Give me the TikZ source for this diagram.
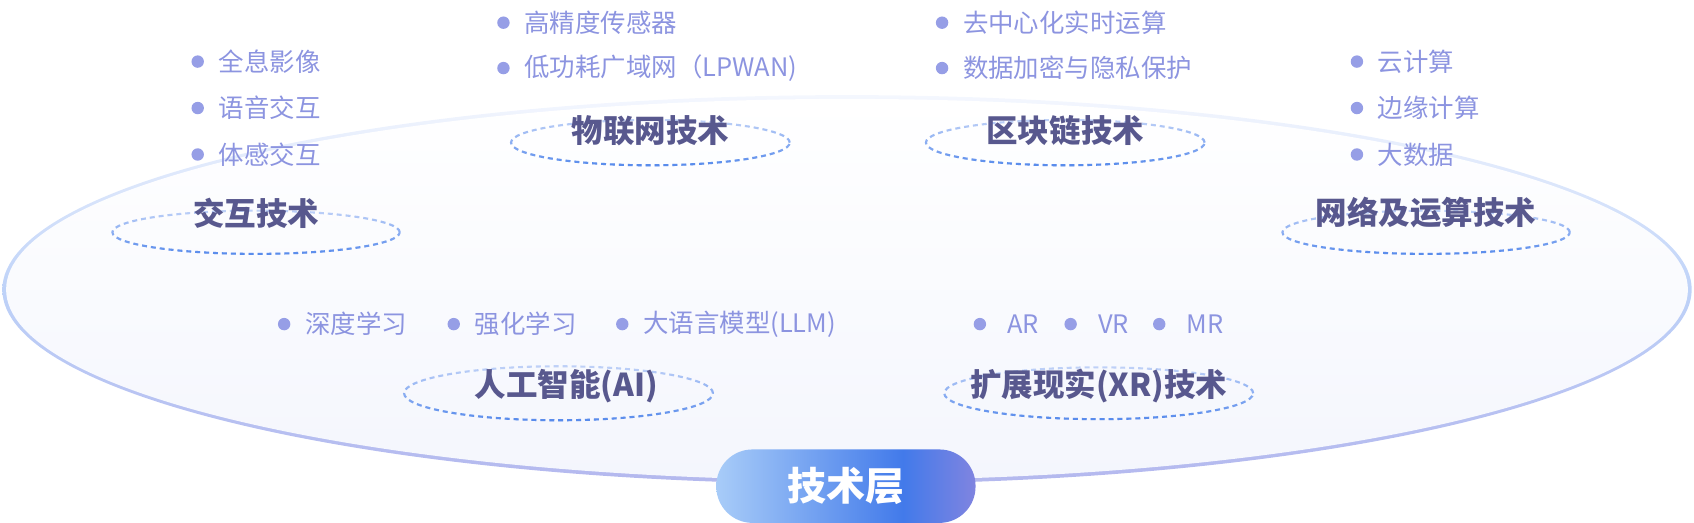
\documentclass[tikz,border=0pt]{standalone}
\usepackage{fontspec}
\setmainfont{Noto Sans CJK SC}
\usetikzlibrary{positioning,fadings}

\definecolor{headc}{RGB}{88,88,142}
\definecolor{itemc}{RGB}{140,148,224}
\definecolor{dotc}{RGB}{150,158,230}
\definecolor{ringlo}{RGB}{192,210,248}
\definecolor{ringhi}{RGB}{86,138,236}
\definecolor{edgetop}{RGB}{244,247,254}
\definecolor{edgemid}{RGB}{190,210,248}
\definecolor{edgebot}{RGB}{180,184,238}
\definecolor{fillbot}{RGB}{244,246,253}
\definecolor{btnl}{RGB}{168,204,248}
\definecolor{btnm}{RGB}{66,122,234}
\definecolor{btnr}{RGB}{128,132,224}

\pgfdeclarehorizontalshading{btnshade}{100bp}{color(0bp)=(btnl); color(25bp)=(btnl); color(61bp)=(btnm); color(75bp)=(btnr); color(100bp)=(btnr)}

% dashed ring under a group title: centre, x radius, y radius
\newcommand{\ring}[3]{%
  \draw[ringline, ringlo] (#1) ++(0:#2 and #3) arc[start angle=0, end angle=360, x radius=#2, y radius=#3];
  \draw[ringline, ringhi, path fading=north] (#1) ++(0:#2 and #3) arc[start angle=0, end angle=360, x radius=#2, y radius=#3];
}

\begin{document}
\begin{tikzpicture}[x=0.02cm, y=-0.02cm]
\tikzstyle{ringline}=[line width=1.1pt, dash pattern=on 2.6pt off 2.1pt]
\tikzstyle{head}=[inner sep=0pt, text=headc, font=\bfseries\fontsize{16.6}{20}\selectfont]
\tikzstyle{item}=[inner sep=0pt, text=itemc, font=\fontsize{13.4}{16}\selectfont]
\tikzstyle{dot}=[circle, fill=dotc, inner sep=0pt, minimum size=0.23cm]
\tikzstyle{btn}=[rounded corners=0.67cm, minimum width=4.8cm, minimum height=1.36cm, shading=btnshade, text=white, font=\bfseries\fontsize{20.5}{24}\selectfont]

\useasboundingbox (0,0) rectangle (1568,484);

% the layer disc
\shade[top color=edgetop, bottom color=edgebot, middle color=edgemid] (784,268) ellipse [x radius=15.64cm, y radius=3.6cm];
\shade[top color=white, bottom color=fillbot] (784,268) ellipse [x radius=15.57cm, y radius=3.53cm];

% interaction
\coordinate (ixring) at (237,215);
\ring{ixring}{2.66cm}{0.40cm}
\node[head] (ix) at ([yshift=0.36cm]ixring) {交互技术};
\node[dot] (ixa) at (183,57) {};
\node[item, right=0.26cm of ixa] (ixat) {全息影像};
\node[dot] (ixb) at (183,100) {};
\node[item, right=0.26cm of ixb] (ixbt) {语音交互};
\node[dot] (ixc) at (183,143) {};
\node[item, right=0.26cm of ixc] (ixct) {体感交互};

% internet of things
\coordinate (iotring) at (602,132);
\ring{iotring}{2.58cm}{0.42cm}
\node[head] (iot) at ([yshift=0.22cm]iotring) {物联网技术};
\node[dot] (iota) at (466,21) {};
\node[item, right=0.26cm of iota] (iotat) {高精度传感器};
\node[dot] (iotb) at (466,63) {};
\node[item, right=0.26cm of iotb] (iotbt) {低功耗广域网（LPWAN)};

% blockchain
\coordinate (bcring) at (986,132);
\ring{bcring}{2.58cm}{0.42cm}
\node[head] (bc) at ([yshift=0.22cm]bcring) {区块链技术};
\node[dot] (bca) at (872,21) {};
\node[item, right=0.26cm of bca] (bcat) {去中心化实时运算};
\node[dot] (bcb) at (872,63) {};
\node[item, right=0.26cm of bcb] (bcbt) {数据加密与隐私保护};

% network and computing
\coordinate (netring) at (1320,215);
\ring{netring}{2.66cm}{0.40cm}
\node[head] (net) at ([yshift=0.36cm]netring) {网络及运算技术};
\node[dot] (neta) at (1256,57) {};
\node[item, right=0.26cm of neta] (netat) {云计算};
\node[dot] (netb) at (1256,100) {};
\node[item, right=0.26cm of netb] (netbt) {边缘计算};
\node[dot] (netc) at (1256,143) {};
\node[item, right=0.26cm of netc] (netct) {大数据};

% artificial intelligence
\coordinate (airing) at (517,364);
\ring{airing}{2.86cm}{0.50cm}
\node[head] (ai) at ([xshift=0.14cm, yshift=0.14cm]airing) {人工智能(AI)};
\node[dot] (aia) at (263,300) {};
\node[item, right=0.26cm of aia] (aiat) {深度学习};
\node[dot] (aib) at (420,300) {};
\node[item, right=0.26cm of aib] (aibt) {强化学习};
\node[dot] (aic) at (576,300) {};
\node[item, right=0.26cm of aic] (aict) {大语言模型(LLM)};

% extended reality
\coordinate (xrring) at (1017,364);
\ring{xrring}{2.86cm}{0.48cm}
\node[head] (xr) at ([yshift=0.14cm]xrring) {扩展现实(XR)技术};
\node[dot] (xra) at (907,300) {};
\node[item, right=0.38cm of xra] (xrat) {AR};
\node[dot] (xrb) at (991,300) {};
\node[item, right=0.38cm of xrb] (xrbt) {VR};
\node[dot] (xrc) at (1073,300) {};
\node[item, right=0.38cm of xrc] (xrct) {MR};

% layer tag
\node[btn] (layer) at (783,450) {技术层};
\end{tikzpicture}
\end{document}
